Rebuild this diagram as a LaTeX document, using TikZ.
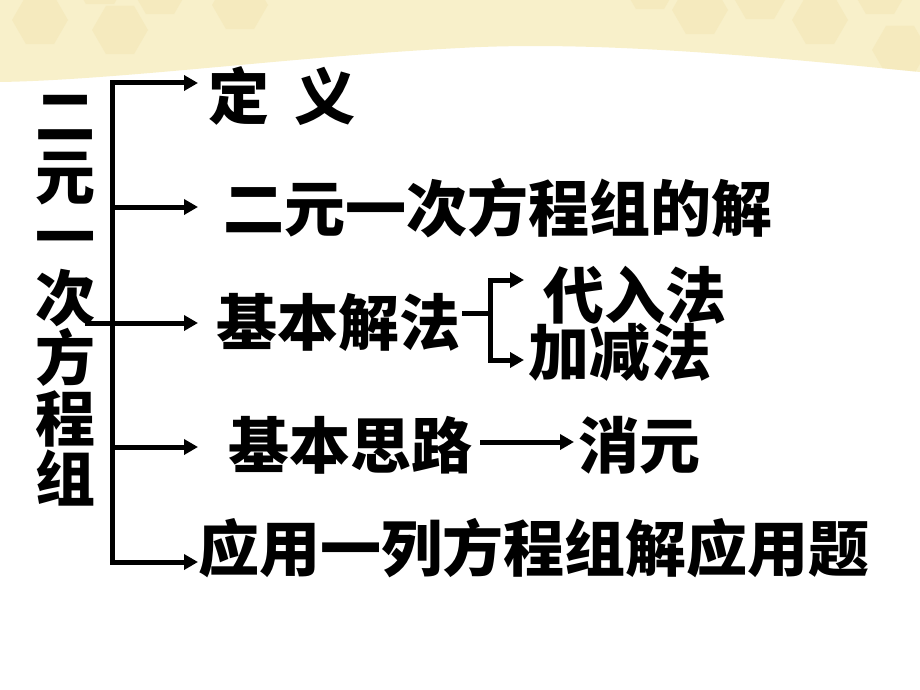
\documentclass[tikz,border=0pt]{standalone}
\usepackage{fontspec}
\newfontfamily\cjk{Noto Sans CJK SC}
\usetikzlibrary{arrows.meta}
\definecolor{cream}{RGB}{248,240,202}
\definecolor{hexc}{RGB}{243,230,180}
\tikzset{
  lbl/.style={anchor=west,inner sep=0pt,font=\cjk\bfseries\fontsize{61}{64}\selectfont},
  conn/.style={line width=5pt},
  arr/.style={line width=5pt,-{Triangle[length=14pt,width=15pt]}}
}
\begin{document}
\begin{tikzpicture}[x=1pt,y=-1pt]
\useasboundingbox (0,0) rectangle (920,690);
\fill[white] (0,0) rectangle (920,690);
% top band
\fill[cream] (0,0) -- (920,0) -- (920,72) .. controls (780,58) and (600,40) .. (460,48)
  .. controls (300,56) and (120,80) .. (0,82) -- cycle;
\begin{scope}
\clip (0,0) -- (920,0) -- (920,72) .. controls (780,58) and (600,40) .. (460,48)
  .. controls (300,56) and (120,80) .. (0,82) -- cycle;
\foreach \cx/\cy in {40/20,120/30,160/-10,240/5,100/-20,700/10,760/-5,820/20,880/-10,900/50,650/-15}{
  \fill[hexc,opacity=0.5] (\cx,\cy) +(0:28) -- +(60:28) -- +(120:28) -- +(180:28) -- +(240:28) -- +(300:28) -- cycle;
}
\end{scope}
% vertical title
\node[inner sep=0pt,align=center,font=\cjk\bfseries\fontsize{60}{60.5}\selectfont] (title) at (65,301)
  {二\\元\\一\\次\\方\\程\\组};
% texts
\node[lbl] (t1) at (208,96) {定\hspace{0.42em}义};
\node[lbl] (t2) at (223,208) {二元一次方程组的解};
\node[lbl] (t3) at (216,322) {基本解法};
\node[lbl] (t3a) at (543,295) {代入法};
\node[lbl] (t3b) at (528,352) {加减法};
\node[lbl] (t4) at (228,445) {基本思路};
\node[lbl] (t4a) at (578,445) {消元};
\node[lbl] (t5) at (198,548) {应用一列方程组解应用题};
% spine
\coordinate (s1) at (112,83);
\coordinate (s5) at (112,562);
\coordinate (m0) at (85,323);
\draw[conn,line cap=rect] (s1) -- (s5);
\coordinate (e1) at (198,83);
\coordinate (e2) at (198,207);
\coordinate (e3) at (198,323);
\coordinate (e4) at (198,447);
\coordinate (e5) at (198,562);
\draw[arr] ([xshift=-2pt]s1) -- (e1);
\draw[arr] (s1 |- e2) -- (e2);
\draw[arr] (m0) -- (e3);
\draw[arr] (s1 |- e4) -- (e4);
\draw[arr] ([xshift=-2pt]s5) -- (e5);
% small bracket
\coordinate (b0) at (462,313);
\coordinate (b1) at (490,280);
\coordinate (b2) at (490,360);
\coordinate (f1) at (524,280);
\coordinate (f2) at (524,360);
\draw[conn] (b0) -- (b0 -| b1);
\draw[conn,line cap=rect] (b1) -- (b2);
\draw[arr] ([xshift=-2pt]b1) -- (f1);
\draw[arr] ([xshift=-2pt]b2) -- (f2);
% think arrow
\coordinate (g0) at (480,442);
\coordinate (g1) at (574,442);
\draw[arr] (g0) -- (g1);
\end{tikzpicture}
\end{document}
